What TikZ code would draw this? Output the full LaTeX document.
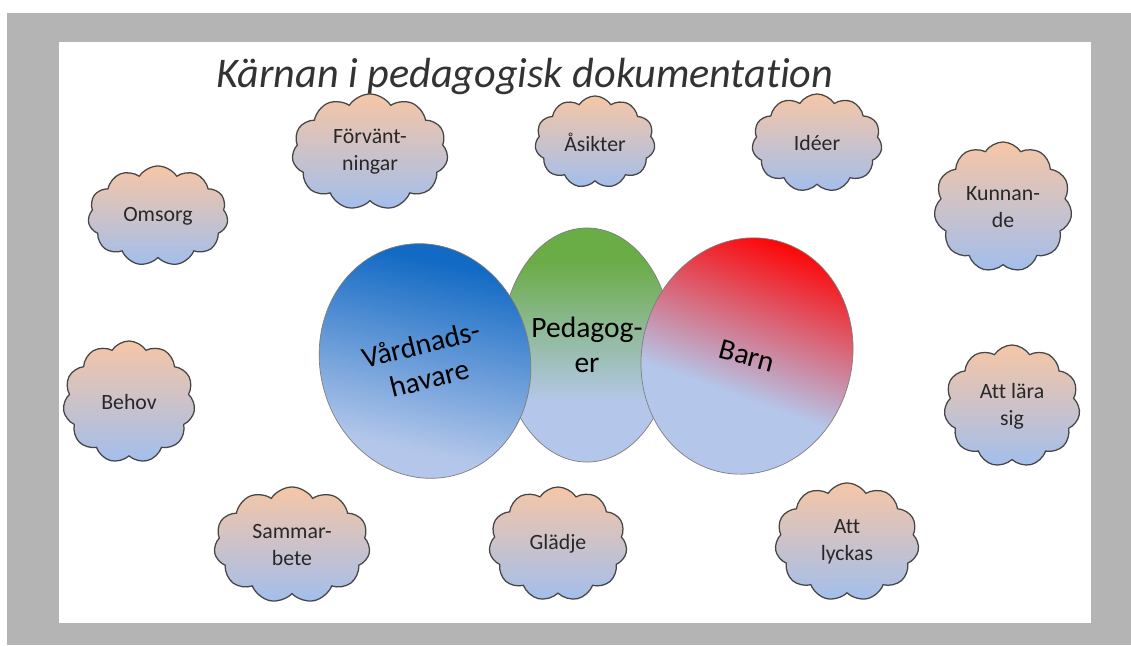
\documentclass[tikz,border=0pt]{standalone}
\usepackage{fontspec}
\setmainfont{Carlito}[Ligatures=NoCommon]
\usetikzlibrary{shapes.symbols,shapes.geometric}

\definecolor{framegray}{RGB}{180,180,180}
\definecolor{cloudtop}{RGB}{246,198,166}
\definecolor{cloudbot}{RGB}{162,190,236}
\definecolor{paleblue}{RGB}{180,199,234}
\definecolor{deepblue}{RGB}{18,106,196}
\definecolor{leafgreen}{RGB}{106,172,70}
\definecolor{brightred}{RGB}{255,0,0}
\definecolor{rimgray}{RGB}{70,70,70}
\definecolor{textgray}{RGB}{40,40,40}

\pgfdeclareverticalshading{bluefade}{100bp}{color(0bp)=(paleblue); color(32bp)=(paleblue); color(70bp)=(deepblue); color(100bp)=(deepblue)}
\pgfdeclareverticalshading{greenfade}{100bp}{color(0bp)=(paleblue); color(38bp)=(paleblue); color(68bp)=(leafgreen); color(100bp)=(leafgreen)}
\pgfdeclareverticalshading{redfade}{100bp}{color(0bp)=(paleblue); color(40bp)=(paleblue); color(74bp)=(brightred); color(100bp)=(brightred)}

\begin{document}
\begin{tikzpicture}
    [
        x=0.025cm, y=-0.025cm,
        thought/.style={cloud, cloud puffs=11, cloud puff arc=115,
            cloud ignores aspect, draw=rimgray, line width=0.9pt,
            top color=cloudtop, bottom color=cloudbot, text=textgray,
            font=\fontsize{15.5}{19}\selectfont, align=center, inner sep=0pt},
        circle set/.style={ellipse, draw=rimgray!70, line width=0.5pt,
            font=\fontsize{21}{25}\selectfont, align=center, inner sep=0pt},
        headline/.style={font=\fontsize{30}{34}\selectfont\itshape}
    ]
    \useasboundingbox (0,0) rectangle (1131,645);

    % frame and slide
    \fill [framegray] (7,13) rectangle (1131,645);
    \fill [white] (59,42) rectangle (1091,623);

    % title
    \node (title) [headline, text=black!80] at (525,76)
        {Kärnan i pedagogisk dokumentation};

    % the three sets
    \node (pedagoger) [circle set, shading=greenfade,
        minimum width=4.25cm, minimum height=5.85cm] at (587,345)
        {Pedagog-\\er};
    \node (vardnad) [circle set, shading=bluefade, shading angle=-12,
        rotate=14, minimum width=5.25cm, minimum height=5.9cm] at (425,361)
        {Vårdnads-\\havare};
    \node (barn) [circle set, shading=redfade, shading angle=-20,
        rotate=-15, minimum width=5.25cm, minimum height=5.95cm] at (747,356)
        {Barn};

    % clouds
    \node (forvantningar) [thought, minimum width=3.9cm, minimum height=2.9cm]
        at (370,152) {Förvänt-\\ningar};
    \node (asikter) [thought, minimum width=3.0cm, minimum height=2.3cm]
        at (595,142) {Åsikter};
    \node (ideer) [thought, minimum width=3.25cm, minimum height=2.45cm]
        at (817,143) {Idéer};
    \node (kunnande) [thought, minimum width=3.45cm, minimum height=3.25cm]
        at (1003,207) {Kunnan-\\de};
    \node (omsorg) [thought, minimum width=3.5cm, minimum height=2.5cm]
        at (158,216) {Omsorg};
    \node (behov) [thought, minimum width=3.3cm, minimum height=3.05cm]
        at (129,402) {Behov};
    \node (lara) [thought, minimum width=3.4cm, minimum height=3.05cm]
        at (1012,406) {Att lära\\sig};
    \node (samarbete) [thought, minimum width=3.9cm, minimum height=2.9cm]
        at (292,545) {Sammar-\\bete};
    \node (gladje) [thought, minimum width=3.45cm, minimum height=2.85cm]
        at (558,544) {Glädje};
    \node (lyckas) [thought, minimum width=3.6cm, minimum height=2.95cm]
        at (847,542) {Att\\lyckas};

\end{tikzpicture}
\end{document}
